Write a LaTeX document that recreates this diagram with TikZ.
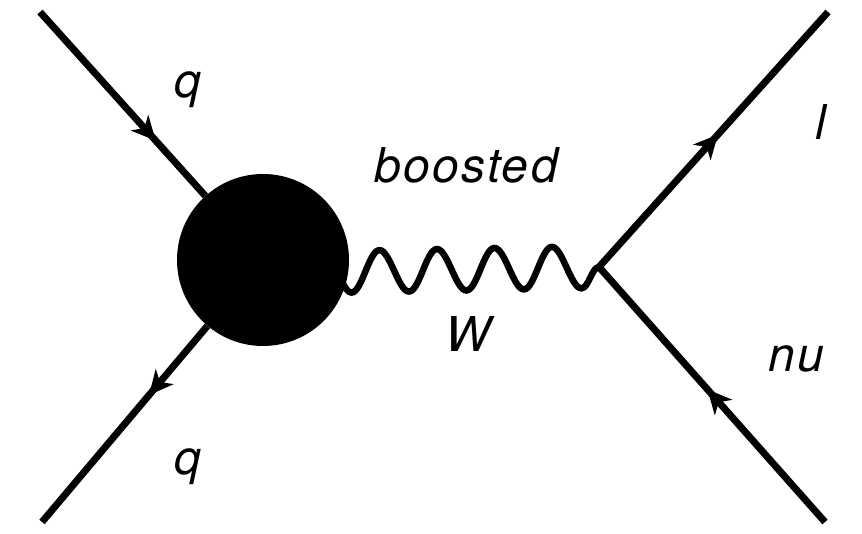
\documentclass[tikz,border=0pt]{standalone}
\usepackage{fontspec}
\setmainfont{TeX Gyre Heros}[LetterSpace=5]
\usetikzlibrary{decorations.pathmorphing,decorations.markings,arrows.meta}
\begin{document}
\begin{tikzpicture}[x=1pt,y=-1pt,
  fermion/.style={line width=7pt},
  arrowat/.style={postaction={decorate,decoration={markings,
      mark=at position #1 with {\arrow{Stealth[length=24pt,width=23pt,inset=7pt]}}}}},
  boson/.style={line width=6.5pt,decorate,
      decoration={snake,segment length=57.5pt,amplitude=21pt}},
  blobstyle/.style={circle,fill=black,draw=none,inner sep=0pt,minimum size=172pt},
  lbl/.style={font=\fontsize{48}{58}\selectfont\itshape,inner sep=0pt,anchor=base}]
\useasboundingbox (0,0) rectangle (862,534);
% external points and vertex
\coordinate (qin)  at (40,12);
\coordinate (qout) at (42,522);
\coordinate (lep)  at (828,12);
\coordinate (nuin) at (825,522);
\coordinate (v)    at (599,267);
\coordinate (wend) at (333,272);
% W boson (its hidden end lies inside the blob)
\draw[boson] (v) -- (wend);
% blob
\node[blobstyle] (blob) at (263,260) {};
% fermion lines
\draw[fermion,arrowat=0.70] (qin) -- (blob);
\draw[fermion,arrowat=0.353] (blob) -- (qout);
\draw[fermion,arrowat=0.52] (v) -- (lep);
\draw[fermion,arrowat=0.52] (nuin) -- (v);
% labels
\node[lbl] (lq1) at (188,98) {q};
\node[lbl] (lq2) at (188,474) {q};
\node[lbl] (lboost) at (466,183) {boosted};
\node[lbl] (lW) at (468,352) {W};
\node[lbl] (ll) at (821,140) {l};
\node[lbl] (lnu) at (796,372) {nu};
\end{tikzpicture}
\end{document}
